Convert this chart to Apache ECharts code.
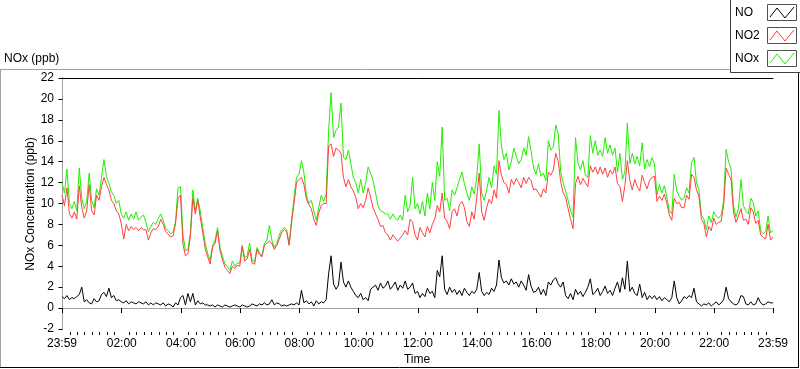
<!DOCTYPE html>
<html><head><meta charset="utf-8">
<script src="https://cdn.jsdelivr.net/npm/echarts@6/dist/echarts.min.js"></script>
<style>html,body{margin:0;padding:0;background:#fff}#c{width:800px;height:369px}</style>
</head><body><div id="c"></div>
<script>
// ---- data ----
const seriesNames = ['NO', 'NO2', 'NOx'];
const startMinute = -1;      // 23:59 of the previous day
const stepMinutes = 5;
const noValues = [
 1.1,0.9,1.2,0.8,1.0,0.9,1.1,1.3,2.0,0.6,0.8,0.5,
 0.4,0.9,0.6,0.7,1.3,1.5,1.1,1.9,1.0,1.2,0.7,0.8,
 0.6,0.5,0.7,0.4,0.6,0.5,0.4,0.6,0.5,0.4,0.6,0.3,
 0.5,0.3,0.5,0.4,0.3,0.5,0.2,0.4,0.3,0.1,0.5,0.3,
 1.0,1.2,0.3,1.4,0.6,1.4,0.3,0.7,0.4,0.5,0.3,0.3,
 0.2,0.3,0.1,0.3,0.2,0.1,0.3,0.2,0.1,0.2,0.3,0.2,
 0.1,0.3,0.2,0.1,0.2,0.4,0.3,0.2,0.4,0.3,0.5,0.3,
 0.4,0.8,0.3,0.5,0.4,0.2,0.3,0.2,0.3,0.4,0.3,0.5,
 0.3,1.7,0.5,0.7,0.4,0.6,0.2,0.7,0.4,0.6,0.5,0.8,
 3.3,5.0,2.3,1.8,2.2,4.4,2.5,2.0,2.6,2.0,1.6,1.2,
 1.0,1.4,0.8,1.0,0.7,1.8,2.0,2.2,1.7,2.4,1.9,2.1,
 2.6,1.8,2.1,2.5,1.7,2.2,1.9,2.6,1.8,2.0,2.4,1.4,
 1.6,1.0,1.4,1.1,1.9,1.4,1.6,1.0,3.6,3.0,5.0,1.8,
 1.3,2.0,1.5,1.8,1.3,1.7,1.2,1.9,1.5,1.2,1.6,1.4,
 1.8,3.4,1.6,1.2,1.5,1.3,1.9,1.6,2.2,4.6,2.9,2.4,
 2.6,2.2,2.8,2.3,2.5,2.0,2.6,2.2,1.7,3.2,2.1,1.5,
 1.6,2.0,1.3,1.8,1.2,2.5,2.2,2.7,2.9,2.3,2.0,2.5,
 1.2,0.9,1.4,0.8,1.8,1.3,1.6,1.1,1.5,2.0,2.8,1.3,
 1.5,1.9,1.2,1.6,2.1,1.4,1.7,1.2,1.9,2.5,1.5,2.9,
 1.8,4.5,1.6,2.0,1.4,1.2,2.3,1.0,1.5,0.8,1.2,0.9,
 1.2,0.8,1.1,0.7,1.0,0.8,0.6,1.0,2.6,1.0,0.4,0.7,
 1.1,0.9,1.2,1.0,1.9,0.6,0.4,0.2,0.4,0.3,0.5,0.2,
 0.4,0.6,0.3,0.5,0.8,2.0,0.9,0.6,0.4,0.3,0.5,1.2,
 1.1,0.4,0.3,0.6,0.3,0.4,1.0,0.5,0.3,0.4,0.6,0.5,
 0.5
];
const no2Values = [
 10.8,9.8,11.5,9.0,8.6,9.2,8.5,11.7,9.6,8.6,9.3,11.8,
 9.3,8.9,10.8,10.3,11.6,12.5,11.8,11.3,10.3,10.0,9.3,9.0,
 8.1,6.6,8.0,7.4,7.8,7.5,7.7,7.4,7.7,7.5,7.5,6.5,
 7.2,7.6,7.5,7.8,8.5,8.0,7.3,7.1,6.8,6.9,8.1,10.5,
 10.8,6.1,5.0,5.2,6.8,10.5,9.0,10.3,8.7,7.2,5.7,4.9,
 4.2,5.8,6.2,7.4,5.5,4.6,3.9,3.6,3.3,4.0,3.8,4.1,
 4.0,5.9,4.5,4.7,5.6,4.3,4.2,5.6,5.1,4.9,6.0,6.2,
 6.4,6.2,5.6,6.0,6.6,7.2,7.5,7.3,6.0,8.2,10.0,12.0,
 12.3,12.5,11.8,10.4,9.9,9.5,8.5,7.9,9.1,9.8,10.0,10.0,
 15.5,15.7,14.5,15.3,15.1,14.8,12.5,11.6,12.3,11.6,11.2,10.6,
 9.5,10.0,9.6,10.3,11.5,10.6,9.6,9.0,8.5,7.8,7.9,7.2,
 7.0,6.5,7.0,6.7,6.4,6.7,7.0,7.4,7.0,8.5,8.2,7.0,
 6.5,7.7,7.2,6.8,7.8,7.2,8.0,8.5,9.8,9.2,11.0,8.6,
 8.3,7.6,9.2,9.5,8.8,9.9,10.2,9.6,8.3,7.8,9.2,8.5,
 10.6,12.9,9.2,8.4,9.6,10.4,10.0,11.3,10.5,14.1,12.7,12.0,
 11.8,11.0,12.3,11.8,12.4,12.0,11.5,12.5,11.9,12.5,12.2,11.3,
 11.4,11.0,10.6,11.4,11.0,13.0,12.7,13.2,14.8,14.0,12.1,11.0,
 10.6,9.5,8.5,7.6,11.9,12.6,11.8,12.4,12.0,11.6,13.6,13.0,
 13.5,12.8,13.5,12.8,13.4,12.5,13.2,12.8,13.5,11.9,11.6,10.2,
 11.7,14.1,12.2,11.3,12.3,11.6,11.2,12.7,12.0,11.4,12.2,12.5,
 12.6,10.2,10.7,10.3,10.9,10.0,8.9,8.4,10.5,10.0,10.1,9.6,
 9.6,10.8,10.4,12.8,12.5,11.3,10.7,8.5,8.1,6.8,7.8,7.4,
 8.6,8.0,8.2,8.3,9.8,13.4,12.8,12.3,9.2,8.2,8.8,9.5,
 8.4,8.5,8.0,9.6,9.2,8.1,8.4,7.0,6.8,6.6,8.0,6.5,
 6.8
];
const noxValues = [
 12.0,11.0,13.3,10.0,9.5,10.2,9.3,13.4,10.5,9.5,10.2,12.9,
 10.3,9.6,11.4,10.8,12.5,14.2,12.6,11.9,11.1,10.8,10.0,10.3,
 9.0,8.6,9.2,8.4,9.0,8.5,9.2,8.4,8.7,8.9,8.2,7.3,
 7.8,8.2,8.0,8.6,9.0,8.4,7.6,7.4,7.1,7.3,8.3,11.5,
 11.6,7.0,5.5,5.6,7.2,11.3,9.3,10.5,9.3,7.7,6.2,5.2,
 4.6,6.0,6.5,7.7,5.8,5.0,4.2,4.0,3.6,4.5,4.0,4.3,
 4.3,6.0,4.8,5.0,6.2,4.6,4.4,5.8,5.3,5.0,6.2,6.5,
 7.9,6.5,5.8,6.2,7.0,7.5,7.7,7.5,6.1,8.5,10.6,12.5,
 12.8,14.1,12.9,10.8,10.0,10.3,9.3,8.4,9.6,10.8,10.2,10.9,
 17.0,20.6,16.3,17.0,17.3,19.6,14.4,14.2,15.1,13.8,12.5,12.0,
 11.0,12.3,11.0,12.0,13.5,12.9,12.2,11.0,9.8,9.3,9.2,9.0,
 9.0,8.5,9.0,8.6,8.4,8.9,8.4,10.8,9.2,9.8,12.5,9.5,
 10.0,9.0,10.2,8.8,11.0,9.5,12.0,10.3,14.0,12.6,17.3,10.3,
 10.5,9.3,11.3,10.8,11.5,12.3,13.0,11.9,11.0,10.3,11.6,10.9,
 12.5,15.7,11.0,10.3,11.3,12.5,11.5,13.6,12.8,18.9,15.5,14.2,
 14.8,13.2,14.0,15.3,14.5,13.8,14.2,15.3,14.6,16.4,15.0,13.4,
 12.8,13.8,12.6,12.9,12.2,16.0,15.1,15.4,17.5,16.7,13.0,12.0,
 11.2,10.3,9.3,8.7,16.3,13.9,13.2,14.1,12.7,12.5,16.5,14.8,
 16.0,14.6,15.1,14.5,16.3,14.8,15.6,14.6,15.3,13.0,14.8,12.3,
 13.0,17.7,13.8,14.8,13.8,14.5,13.6,15.8,13.3,14.2,13.5,14.4,
 13.8,10.8,11.8,11.0,11.7,10.6,9.3,9.0,12.8,11.2,10.7,10.3,
 10.6,11.5,11.0,13.9,14.4,12.0,11.3,8.9,8.5,7.5,8.8,8.2,
 9.2,8.8,8.6,8.9,10.2,15.2,14.0,13.3,9.8,8.7,9.5,12.3,
 9.8,9.3,9.0,10.5,10.1,8.8,9.3,7.4,7.1,7.3,8.8,7.2,
 7.4
];
const majorTickMinutes = [-1,120,240,360,480,600,720,840,960,1080,1200,1320,1439];
const majorTickLabels = ['23:59','02:00','04:00','06:00','08:00','10:00','12:00','14:00','16:00','18:00','20:00','22:00','23:59'];
const yTitle = 'NOx Concentration (ppb)';
const xTitle = 'Time';
const unitLabel = 'NOx (ppb)';

// ---- build ----
const FONT = 'Liberation Sans';
const FS = 12;
const colors = {NO: '#000000', NO2: '#ff4040', NOx: '#22ee00'};
const minorTickMinutes = [];
for (let m = 15; m < 1439; m += 15) if (m % 120 !== 0) minorTickMinutes.push(m);
const toPairs = arr => arr.map((v, i) => [startMinute + i * stepMinutes, v]);
const xMin = -1, xMax = 1439;

const chart = echarts.init(document.getElementById('c'), null, {renderer: 'canvas'});
const baseX = {type: 'value', min: xMin, max: xMax, gridIndex: 0, splitLine: {show: false}};
const legendRows = [
  {name: 'NO', y: 13}, {name: 'NO2', y: 36}, {name: 'NOx', y: 59}
];
const fontStr = FS + 'px "' + FONT + '"';
const graphic = [
  {type: 'line', shape: {x1: 0, y1: 69.5, x2: 731, y2: 69.5}, style: {stroke: '#a0a0a0', lineWidth: 1}, silent: true},
  {type: 'line', shape: {x1: 0.5, y1: 69, x2: 0.5, y2: 368}, style: {stroke: '#a0a0a0', lineWidth: 1}, silent: true},
  {type: 'line', shape: {x1: 0, y1: 367.5, x2: 799, y2: 367.5}, style: {stroke: '#000', lineWidth: 1}, silent: true},
  {type: 'line', shape: {x1: 798.5, y1: 72, x2: 798.5, y2: 368}, style: {stroke: '#000', lineWidth: 1}, silent: true},
  {type: 'rect', shape: {x: 730.5, y: -1, width: 72, height: 73.5}, style: {fill: '#fff', stroke: '#404040', lineWidth: 1}, silent: true},
  {type: 'text', x: 4, y: 59, style: {text: unitLabel, font: fontStr, fill: '#000', verticalAlign: 'middle'}, silent: true},
  {type: 'text', x: 31, y: 204, rotation: Math.PI / 2, style: {text: yTitle, font: fontStr, fill: '#000', align: 'center', verticalAlign: 'middle'}, silent: true},
  {type: 'text', x: 417, y: 360, style: {text: xTitle, font: fontStr, fill: '#000', align: 'center', verticalAlign: 'middle'}, silent: true}
];
legendRows.forEach(r => {
  graphic.push({type: 'text', x: 735, y: r.y, style: {text: r.name, font: fontStr, fill: '#000', verticalAlign: 'middle'}, silent: true});
  graphic.push({type: 'rect', shape: {x: 767.5, y: r.y - 8.5, width: 29, height: 16}, style: {fill: '#fff', stroke: '#505050', lineWidth: 1}, silent: true});
  graphic.push({type: 'polyline', shape: {points: [[770, r.y + 4], [777, r.y - 5], [785, r.y + 5], [794, r.y - 6]]}, style: {stroke: colors[r.name], lineWidth: 1, fill: null}, silent: true});
});

chart.setOption({
  animation: false,
  backgroundColor: '#fff',
  textStyle: {fontFamily: FONT},
  grid: {left: 62, top: 78, right: 27, bottom: 40, show: false},
  xAxis: [
    Object.assign({}, baseX, {position: 'bottom', axisLine: {show: true, lineStyle: {color: '#a0a0a0', width: 1}}, axisTick: {show: false}, axisLabel: {show: false}}),
    Object.assign({}, baseX, {position: 'bottom', offset: 3, axisLine: {show: false},
      axisTick: {show: true, customValues: majorTickMinutes, length: 5, lineStyle: {color: '#000', width: 1}},
      axisLabel: {show: true, customValues: majorTickMinutes, margin: 6, fontSize: FS, fontFamily: FONT, color: '#000',
        formatter: v => { const i = majorTickMinutes.indexOf(v); return i >= 0 ? majorTickLabels[i] : ''; }}}),
    Object.assign({}, baseX, {position: 'bottom', offset: 3, axisLine: {show: false},
      axisTick: {show: true, customValues: minorTickMinutes, length: 3, lineStyle: {color: '#000', width: 1}},
      axisLabel: {show: false}}),
    Object.assign({}, baseX, {position: 'top', axisLine: {show: true, lineStyle: {color: '#000', width: 1}}, axisTick: {show: false}, axisLabel: {show: false}})
  ],
  yAxis: [
    {type: 'value', min: -2, max: 22, interval: 2, position: 'left',
     axisLine: {show: true, lineStyle: {color: '#000', width: 1}},
     axisTick: {show: true, length: 4, lineStyle: {color: '#000'}},
     axisLabel: {margin: 8, fontSize: FS, fontFamily: FONT, color: '#000'},
     splitLine: {show: false}},
    {type: 'value', min: -2, max: 22, interval: 2, position: 'right',
     axisLine: {show: true, lineStyle: {color: '#a0a0a0', width: 1}},
     axisTick: {show: false}, axisLabel: {show: false}, splitLine: {show: false}}
  ],
  graphic: graphic,
  series: [
    {name: 'NO', type: 'line', data: toPairs(noValues), z: 4},
    {name: 'NO2', type: 'line', data: toPairs(no2Values), z: 3},
    {name: 'NOx', type: 'line', data: toPairs(noxValues), z: 2}
  ].map(s => Object.assign(s, {xAxisIndex: 0, yAxisIndex: 0, showSymbol: false, symbol: 'none', silent: true,
      lineStyle: {width: 1, color: colors[s.name]}, itemStyle: {color: colors[s.name]}}))
});
</script></body></html>
